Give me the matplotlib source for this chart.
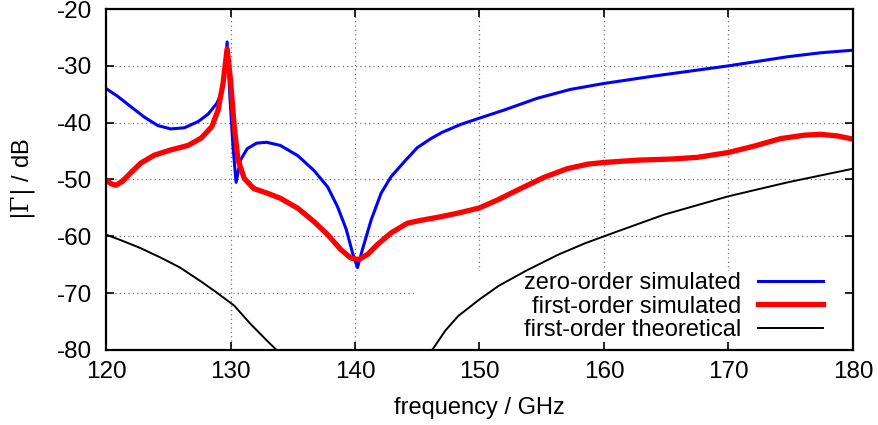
import matplotlib
matplotlib.use("Agg")
import matplotlib.pyplot as plt
from matplotlib.patches import Rectangle

plt.rcParams['font.family'] = ['Liberation Sans', 'DejaVu Sans']
plt.rcParams['axes.unicode_minus'] = False
plt.rcParams['mathtext.fontset'] = 'dejavuserif'
plt.rcParams['lines.solid_joinstyle'] = 'round'

# zero-order simulated
f_zero = [120.0, 120.9, 122.0, 123.1, 124.15, 125.2, 126.3, 127.4, 128.2, 128.9,
          129.3, 129.55, 129.73, 129.95, 130.2, 130.45, 130.8, 131.33, 132.1, 132.9,
          134.0, 135.4, 136.7, 137.8, 138.6, 139.3, 139.8, 140.2, 140.6, 141.3,
          142.1, 142.9, 143.95, 145.0, 146.1, 147.0, 148.5, 150.0, 151.95, 154.65,
          157.3, 160.0, 164.0, 170.0, 174.75, 177.4, 180.0]
g_zero = [-34.0, -35.3, -37.2, -39.05, -40.5, -41.1, -40.9, -39.8, -38.5, -36.6,
          -34.6, -30.75, -25.8, -35.4, -44.2, -50.5, -46.6, -44.6, -43.6, -43.45,
          -44.0, -45.8, -48.4, -51.3, -54.8, -58.8, -62.9, -65.5, -62.3, -57.1,
          -52.4, -49.5, -46.9, -44.4, -42.8, -41.7, -40.3, -39.2, -37.8, -35.7,
          -34.15, -33.1, -31.8, -30.0, -28.4, -27.7, -27.25]

# first-order simulated
f_first = [120.0, 120.4, 120.8, 121.3, 122.0, 122.8, 123.9, 125.2, 126.6, 127.65,
           128.5, 129.0, 129.4, 129.73, 130.0, 130.3, 130.6, 131.1, 131.87, 132.95,
           134.0, 135.4, 136.7, 137.8, 138.85, 139.65, 140.3, 141.0, 141.8, 142.9,
           144.2, 145.25, 146.9, 148.5, 150.0, 151.4, 153.3, 155.2, 157.05, 158.7,
           160.0, 162.7, 165.4, 167.5, 170.0, 172.1, 174.2, 176.1, 177.4, 178.8, 180.0]
g_first = [-50.05, -50.75, -51.0, -50.35, -48.8, -47.1, -45.7, -44.8, -44.0, -42.7,
           -40.7, -37.8, -33.1, -27.0, -32.5, -40.7, -46.5, -49.8, -51.6, -52.4,
           -53.3, -55.05, -57.4, -59.7, -62.3, -63.8, -64.1, -63.2, -61.45, -59.4,
           -57.7, -57.2, -56.55, -55.8, -55.0, -53.65, -51.6, -49.6, -48.1, -47.3,
           -47.0, -46.6, -46.4, -46.1, -45.25, -44.1, -42.8, -42.2, -42.05, -42.35, -42.9]

# first-order theoretical (dips far below the plotted range around 140 GHz)
f_theo = [120.0, 121.1, 122.7, 124.35, 125.95, 127.6, 128.9, 130.3, 131.6, 132.95,
          133.7, 134.3, 145.7, 146.2, 147.25, 148.3, 150.0, 151.55, 153.7, 156.35,
          158.5, 160.0, 161.0, 164.8, 170.0, 174.75, 180.0]
g_theo = [-59.7, -60.6, -62.0, -63.7, -65.5, -67.9, -69.9, -72.2, -75.4, -78.4,
          -80.0, -82.0, -82.0, -80.0, -76.6, -74.0, -71.1, -68.7, -66.1, -63.2,
          -61.2, -60.0, -59.2, -56.2, -52.95, -50.5, -48.1]

xticks = [120, 130, 140, 150, 160, 170, 180]
yticks = [-80, -70, -60, -50, -40, -30, -20]

fig = plt.figure(figsize=(8.79, 4.25), dpi=100)
ax = fig.add_axes([0.1206, 0.1765, 0.8498, 0.8023])

# dotted grid, drawn below the key box
grid_style = dict(color='#777777', linestyle=(0, (1, 2.5)), linewidth=0.9, zorder=0.5)
for xv in xticks[1:-1]:
    ax.axvline(xv, **grid_style)
for yv in yticks[1:-1]:
    ax.axhline(yv, **grid_style)

ax.add_patch(Rectangle((0.416, 0.0), 0.584, 0.232, transform=ax.transAxes,
                       facecolor='white', edgecolor='none', zorder=1))

ax.plot(f_zero, g_zero, color='#0000ff', lw=2.2, label='zero-order simulated', zorder=3)
ax.plot(f_first, g_first, color='#ff0000', lw=3.8, label='first-order simulated', zorder=3)
ax.plot(f_theo, g_theo, color='black', lw=1.4, label='first-order theoretical', zorder=3)

ax.set_xlim(120, 180)
ax.set_ylim(-80, -20)
ax.set_xticks(xticks)
ax.set_yticks(yticks)

ax.tick_params(direction='in', length=6, width=1.2, top=True, right=True,
               labelsize=17.5)
ax.tick_params(axis='x', pad=8)
ax.tick_params(axis='y', pad=10)
for s in ax.spines.values():
    s.set_linewidth(1.6)
    s.set_zorder(4)

ax.set_xlabel('frequency / GHz', fontsize=17, labelpad=10)
ax.set_ylabel(r'$|\Gamma|$ / dB', fontsize=17, labelpad=14)

leg = ax.legend(loc='lower right', bbox_to_anchor=(0.982, -0.022), frameon=False,
                markerfirst=False, fontsize=17, handlelength=2.75,
                handletextpad=0.72, labelspacing=0.06, borderaxespad=0.3)
leg.set_zorder(2)

fig.savefig('out.png', dpi=100)
